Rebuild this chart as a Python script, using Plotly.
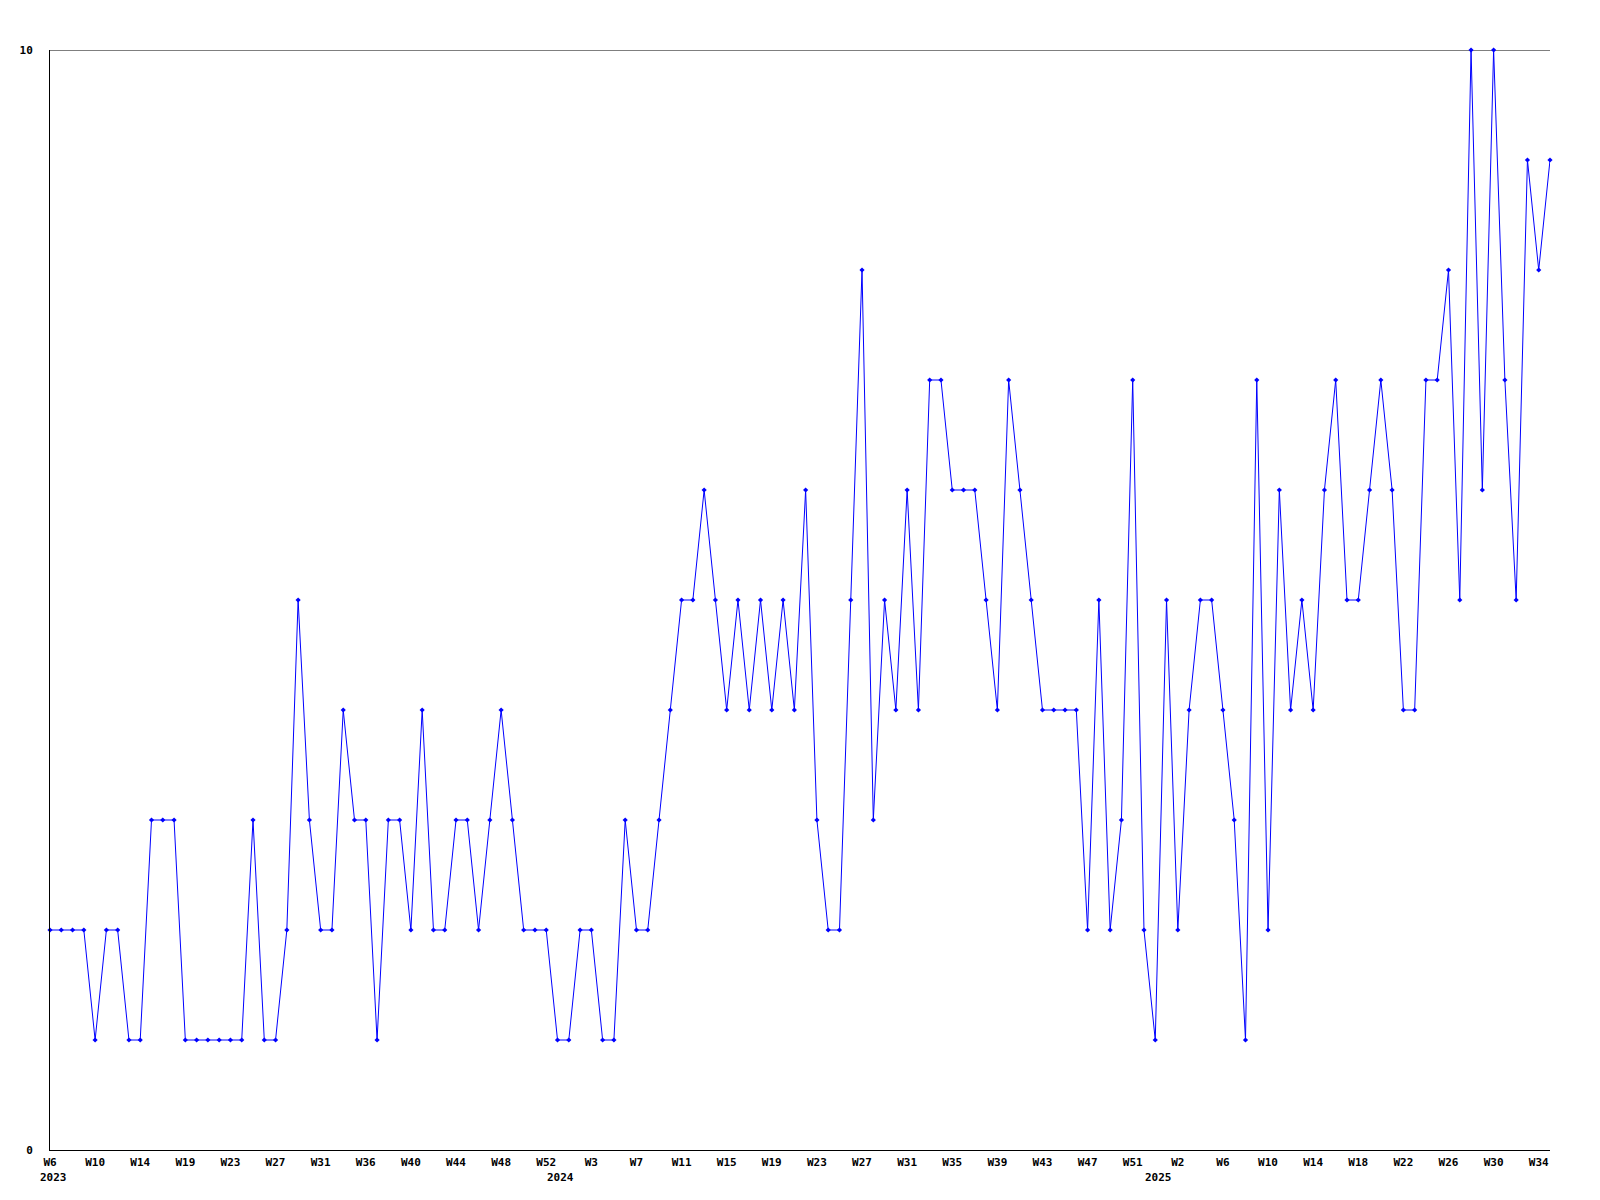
import plotly.graph_objects as go

# weekly values, 2023 W6 .. 2025 W35 (134 points)
values = [
    2, 2, 2, 2, 1, 2, 2, 1, 1, 3,
    3, 3, 1, 1, 1, 1, 1, 1, 3, 1,
    1, 2, 5, 3, 2, 2, 4, 3, 3, 1,
    3, 3, 2, 4, 2, 2, 3, 3, 2, 3,
    4, 3, 2, 2, 2, 1, 1, 2, 2, 1,
    1, 3, 2, 2, 3, 4, 5, 5, 6, 5,
    4, 5, 4, 5, 4, 5, 4, 6, 3, 2,
    2, 5, 8, 3, 5, 4, 6, 4, 7, 7,
    6, 6, 6, 5, 4, 7, 6, 5, 4, 4,
    4, 4, 2, 5, 2, 3, 7, 2, 1, 5,
    2, 4, 5, 5, 4, 3, 1, 7, 2, 6,
    4, 5, 4, 6, 7, 5, 5, 6, 7, 6,
    4, 4, 7, 7, 8, 5, 10, 6, 10, 7,
    5, 9, 8, 9,
]

# week tick labels, one every 4th point
week_ticks = [
    "W6", "W10", "W14", "W19", "W23", "W27", "W31", "W36", "W40", "W44", "W48", "W52",
    "W3", "W7", "W11", "W15", "W19", "W23", "W27", "W31", "W35", "W39", "W43", "W47", "W51",
    "W2", "W6", "W10", "W14", "W18", "W22", "W26", "W30", "W34",
]
tick_step = 4

# year labels and the point index where each year starts
year_labels = ["2023", "2024", "2025"]
year_start_index = [0, 45, 98]

y_max = 10

x_idx = list(range(len(values)))
tickvals = [i * tick_step for i in range(len(week_ticks))]

FONT = dict(family="DejaVu Sans Mono", size=11, color="black", weight="bold")

fig = go.Figure()
fig.add_trace(go.Scatter(
    x=x_idx, y=values, mode="lines+markers",
    line=dict(color="#0000ff", width=1),
    marker=dict(symbol="diamond", size=4, color="#0000ff"),
    cliponaxis=False, showlegend=False, hoverinfo="skip",
))

for lab, idx in zip(year_labels, year_start_index):
    fig.add_annotation(
        x=idx, y=0, xref="x", yref="y", text=lab, showarrow=False,
        font=FONT, xanchor="center", yanchor="middle", xshift=3, yshift=-27,
    )

# top horizontal line at the maximum of the y scale
fig.add_shape(type="line", xref="paper", yref="y", x0=0, x1=1, y0=y_max, y1=y_max,
              line=dict(color="black", width=1), layer="below")

fig.update_layout(
    width=1600, height=1200,
    margin=dict(l=50, r=50, t=50, b=50),
    paper_bgcolor="white", plot_bgcolor="white",
    font=FONT,
    xaxis=dict(
        range=[0, len(values) - 1], tickmode="array", tickvals=tickvals,
        ticktext=week_ticks, showgrid=False, zeroline=False,
        showline=True, linecolor="black", linewidth=1, ticks="",
        tickfont=FONT, ticklabelstandoff=2,
    ),
    yaxis=dict(
        range=[0, y_max], tickmode="array", tickvals=[0, y_max], ticktext=["0", "10"],
        showgrid=False, zeroline=False,
        showline=True, linecolor="black", linewidth=1, ticks="",
        tickfont=FONT, ticklabelstandoff=14,
    ),
)

fig.write_html("out.html", config={"displayModeBar": False},
               post_script="document.body.style.margin='0';")
